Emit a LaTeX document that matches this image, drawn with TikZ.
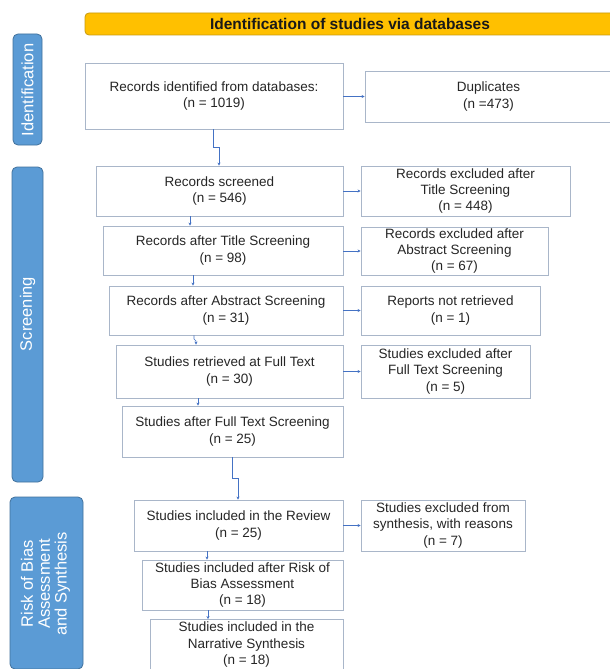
\documentclass[tikz,border=0pt]{standalone}
\usepackage{fontspec}
\setmainfont{Liberation Sans}
\usetikzlibrary{arrows.meta}
\definecolor{boxline}{HTML}{A9B6C9}
\definecolor{sideblue}{HTML}{5B9BD5}
\definecolor{sideline}{HTML}{41719C}
\definecolor{hdrfill}{HTML}{FFC000}
\definecolor{hdrline}{HTML}{C79A10}
\definecolor{conn}{HTML}{4472C4}
\definecolor{txt}{HTML}{262626}
\tikzset{
  pbox/.style={draw=boxline, line width=0.9pt, fill=white, align=center, inner sep=0pt,
    text=txt, font=\fontsize{13.5}{16.3}\selectfont},
  side/.style={draw=sideline, line width=0.8pt, fill=sideblue, rounded corners=5pt,
    rotate=90, inner sep=0pt},
  sidetxt/.style={rotate=90, text=white, align=center, font=\fontsize{16.5}{16.8}\selectfont},
  hdr/.style={draw=hdrline, line width=0.8pt, fill=hdrfill, rounded corners=4pt, inner sep=0pt,
    font=\bfseries\fontsize{15.5}{17}\selectfont, text=black!90},
  arr/.style={draw=conn, line width=0.6pt, -{Stealth[length=3pt,width=3pt]}}
}
\begin{document}
\begin{tikzpicture}[x=1pt,y=-1pt]
\useasboundingbox[fill=white] (0,0) rectangle (610,669);
\begin{scope}
\clip (0,0) rectangle (610,669);
% header
\node[hdr, minimum width=530, minimum height=22] (hdr) at (350,24) {Identification of studies via databases};
% side labels
\node[side, minimum width=111, minimum height=29] (sid) at (27.5,89.5) {};
\node[sidetxt] (sidt) at (27.5,90) {Identification};
\node[side, minimum width=315, minimum height=31] (sscr) at (27.5,324.5) {};
\node[sidetxt] (sscrt) at (27.5,314) {Screening};
\node[side, minimum width=172, minimum height=73] (srob) at (46.5,583) {};
\node[sidetxt] (srobt) at (45.5,584) {Risk of Bias\\Assessment\\and Synthesis};
% main column
\node[pbox, minimum width=258, minimum height=66] (b1) at (214,96) {Records identified from databases:\\(n = 1019)};
\node[pbox, minimum width=247, minimum height=51] (dup) at (488.5,96.5) {Duplicates\\(n =473)};
\node[pbox, minimum width=247, minimum height=50] (b3) at (219.5,191) {Records screened\\(n = 546)};
\node[pbox, minimum width=209, minimum height=50] (ex1) at (465.5,191) {Records excluded after\\Title Screening\\(n = 448)};
\node[pbox, minimum width=240, minimum height=49] (b5) at (223,250.5) {Records after Title Screening\\(n = 98)};
\node[pbox, minimum width=187, minimum height=48] (ex2) at (454.5,251) {Records excluded after\\Abstract Screening\\(n = 67)};
\node[pbox, minimum width=234, minimum height=49] (b7) at (226,310.5) {Records after Abstract Screening\\(n = 31)};
\node[pbox, minimum width=179, minimum height=49] (ex3) at (450.5,310.5) {Reports not retrieved\\(n = 1)};
\node[pbox, minimum width=227, minimum height=53] (b9) at (229.5,371.5) {Studies retrieved at Full Text\\(n = 30)};
\node[pbox, minimum width=169, minimum height=53] (ex4) at (445.5,371.5) {Studies excluded after\\Full Text Screening\\(n = 5)};
\node[pbox, minimum width=221, minimum height=51] (b11) at (232.5,431.5) {Studies after Full Text Screening\\(n = 25)};
\node[pbox, minimum width=209, minimum height=51] (b12) at (238.5,525.5) {Studies included in the Review\\(n = 25)};
\node[pbox, minimum width=164, minimum height=51] (ex5) at (443,525.5) {Studies excluded from\\synthesis, with reasons\\(n = 7)};
\node[pbox, minimum width=201, minimum height=50] (b14) at (242.5,585) {Studies included after Risk of\\Bias Assessment\\(n = 18)};
\node[pbox, minimum width=193, minimum height=50] (b15) at (246.5,644.5) {Studies included in the\\Narrative Synthesis\\(n = 18)};
% horizontal connectors
\draw[arr] (b1.east |- dup.west) -- (dup.west);
\draw[arr] (b3.east |- ex1.west) -- (ex1.west);
\draw[arr] (b5.east |- ex2.west) -- (ex2.west);
\draw[arr] (b7.east |- ex3.west) -- (ex3.west);
\draw[arr] (b9.east |- ex4.west) -- (ex4.west);
\draw[arr] (b12.east |- ex5.west) -- (ex5.west);
% vertical connectors
\coordinate (c1a) at (213,147);
\coordinate (c1b) at (219,147);
\draw[arr] (b1.south -| c1a) -- (c1a) -- (c1b) -- (b3.north -| c1b);
\draw[arr] ([xshift=-29.5pt]b3.south) -- ([xshift=-29.5pt]b3.south |- b5.north);
\draw[arr] ([xshift=-30pt]b5.south) -- ([xshift=-30pt]b5.south |- b7.north);
\coordinate (c7a) at (194,339);
\coordinate (c7b) at (196,341);
\draw[arr] (b7.south -| c7a) -- (c7a) -- (c7b) -- (b9.north -| c7b);
\draw[arr] ([xshift=-31.5pt]b9.south) -- ([xshift=-31.5pt]b9.south |- b11.north);
\coordinate (c11a) at (232,478);
\coordinate (c11b) at (238,478);
\draw[arr] (b11.south -| c11a) -- (c11a) -- (c11b) -- (b12.north -| c11b);
\draw[arr] ([xshift=-31.5pt]b12.south) -- ([xshift=-31.5pt]b12.south |- b14.north);
\draw[arr] ([xshift=-34.5pt]b14.south) -- ([xshift=-34.5pt]b14.south |- b15.north);
\end{scope}
\end{tikzpicture}
\end{document}
